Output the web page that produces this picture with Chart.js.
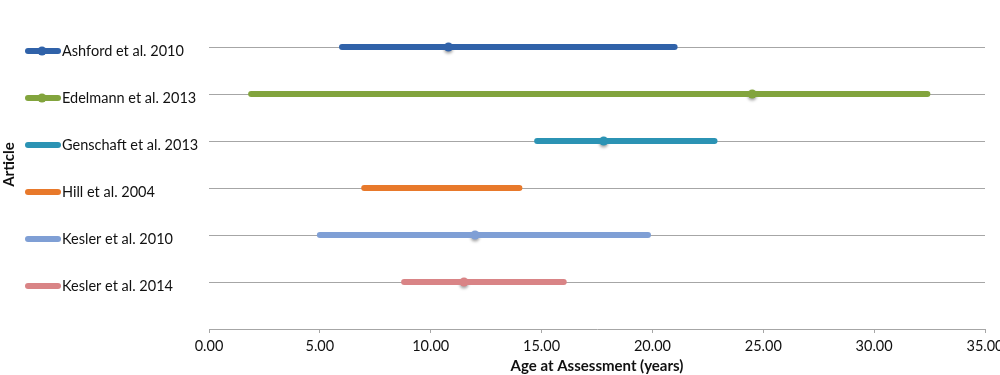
<!DOCTYPE html>
<html>
<head>
<meta charset="utf-8">
<script src="https://cdn.jsdelivr.net/npm/chart.js@4"></script>
<style>
html,body{margin:0;padding:0;background:#fff;}
#wrap{width:1000px;height:375px;}
</style>
</head>
<body>
<div id="wrap"><canvas id="c" width="1000" height="375"></canvas></div>
<script>
const articles = ["Ashford et al. 2010","Edelmann et al. 2013","Genschaft et al. 2013","Hill et al. 2004","Kesler et al. 2010","Kesler et al. 2014"];
const minAge = [6.0, 1.9, 14.8, 7.0, 5.0, 8.8];
const maxAge = [21.0, 32.4, 22.8, 14.0, 19.8, 16.0];
const meanAge = [10.8, 24.5, 17.8, null, 12.0, 11.5];
const legendDot = [true, true, false, false, false, false];
const colors = ["#3062a9","#82a43d","#2b93b4","#e8792b","#7f9fd5","#d98486"];
const xTicks = [0,5,10,15,20,25,30,35];

const FONT = "Lato, 'Open Sans', sans-serif";
const n = articles.length;
const rowOf = i => n - i;

const datasets = [];
articles.forEach((a, i) => {
  datasets.push({
    label: a,
    data: [{x: minAge[i], y: rowOf(i)}, {x: maxAge[i], y: rowOf(i)}],
    borderColor: colors[i],
    backgroundColor: colors[i],
    borderWidth: 6,
    borderCapStyle: 'round',
    pointRadius: 0,
    pointHoverRadius: 0
  });
});
articles.forEach((a, i) => {
  if (meanAge[i] === null) return;
  datasets.push({
    label: a + " mean",
    isMean: true,
    data: [{x: meanAge[i], y: rowOf(i)}],
    showLine: false,
    pointRadius: 4.5,
    pointBackgroundColor: colors[i],
    pointBorderColor: colors[i],
    pointBorderWidth: 0
  });
});

const meanShadow = {
  id: 'meanShadow',
  beforeDatasetDraw(chart, args) {
    if (!args.meta._dataset.isMean) return;
    const ctx = chart.ctx;
    ctx.save();
    ctx.shadowColor = 'rgba(0,0,0,0.35)';
    ctx.shadowBlur = 3;
    ctx.shadowOffsetY = 2;
  },
  afterDatasetDraw(chart, args) {
    if (!args.meta._dataset.isMean) return;
    chart.ctx.restore();
  }
};

const legendSamples = {
  id: 'legendSamples',
  afterDraw(chart) {
    const ctx = chart.ctx;
    const ys = chart.scales.y;
    ctx.save();
    articles.forEach((a, i) => {
      const y = ys.getPixelForValue(rowOf(i)) + 4;
      ctx.strokeStyle = colors[i];
      ctx.lineWidth = 6;
      ctx.lineCap = 'round';
      ctx.beginPath();
      ctx.moveTo(28, y);
      ctx.lineTo(58, y);
      ctx.stroke();
      if (legendDot[i]) {
        ctx.fillStyle = colors[i];
        ctx.beginPath();
        ctx.arc(42, y, 4.5, 0, Math.PI * 2);
        ctx.fill();
      }
    });
    ctx.restore();
  }
};

new Chart(document.getElementById('c'), {
  type: 'line',
  data: { datasets },
  plugins: [meanShadow, legendSamples],
  options: {
    responsive: false,
    animation: false,
    layout: { autoPadding: false, padding: { left: 0, right: 15, top: 0, bottom: 0 } },
    plugins: {
      legend: { display: false },
      tooltip: { enabled: false },
      title: {
        display: true,
        text: 'Article',
        position: 'left',
        fullSize: false,
        color: '#111',
        font: { family: FONT, size: 15, weight: 'bold' },
        padding: { top: 0, bottom: 44 }
      }
    },
    scales: {
      x: {
        type: 'linear',
        min: 0, max: 35,
        afterBuildTicks: s => { s.ticks = xTicks.map(v => ({value: v})); },
        ticks: {
          callback: v => Number(v).toFixed(2),
          color: '#111',
          font: { family: FONT, size: 14.5 },
          padding: 5,
          maxRotation: 0
        },
        grid: { drawOnChartArea: false, drawTicks: true, tickLength: 4, color: '#a6a6a6' },
        border: { display: true, color: '#a6a6a6', width: 1 },
        title: {
          display: true,
          text: 'Age at Assessment (years)',
          color: '#111',
          font: { family: FONT, size: 15, weight: 'bold' },
          padding: { top: 0, bottom: 0 }
        },
        afterFit: s => { s.height = 46; s.paddingRight = 0; s.paddingLeft = 0; }
      },
      y: {
        type: 'linear',
        min: 0, max: 7,
        afterBuildTicks: s => { s.ticks = articles.map((a, i) => ({value: rowOf(i)})); },
        ticks: {
          callback: v => articles[n - v] || '',
          crossAlign: 'far',
          labelOffset: 4,
          color: '#111',
          font: { family: FONT, size: 14.5 }
        },
        grid: { drawTicks: false, color: '#a6a6a6', lineWidth: 1 },
        border: { display: false },
        afterFit: s => { s.width = 147; s.paddingTop = 0; s.paddingBottom = 0; }
      }
    }
  }
});
</script>
</body>
</html>
